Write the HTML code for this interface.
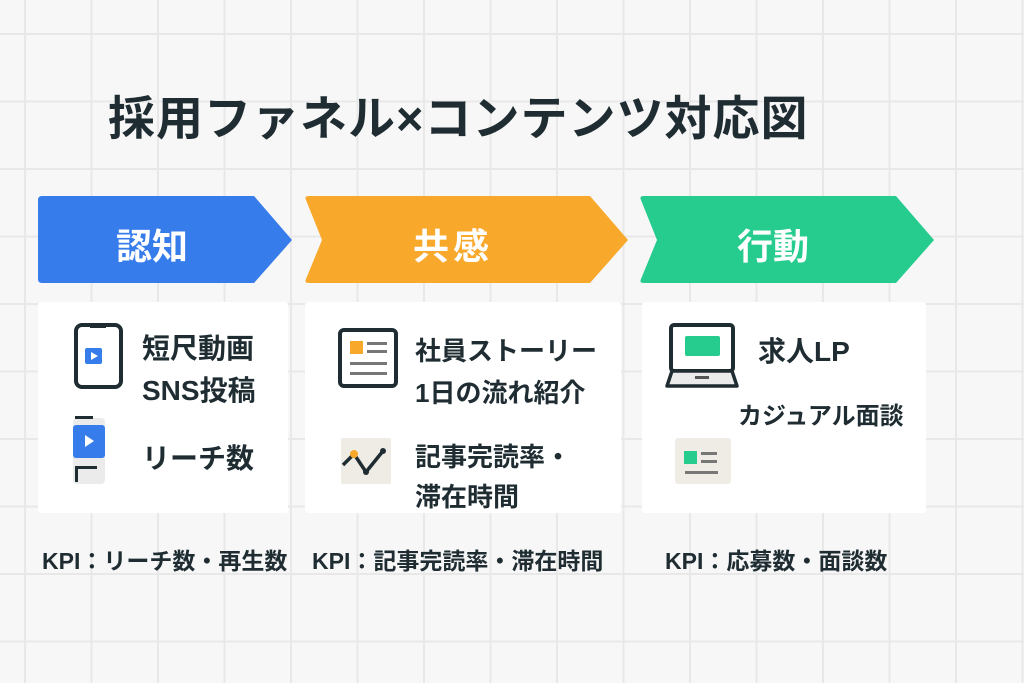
<!DOCTYPE html>
<html><head><meta charset="utf-8"><style>
body{margin:0;width:1024px;height:683px;overflow:hidden;font-family:"Liberation Sans","Noto Sans CJK JP",sans-serif;color:#1f2d33;
background-color:#f7f7f7;
background-image:linear-gradient(#e8e8e8 2px,transparent 2px),linear-gradient(90deg,#e8e8e8 2px,transparent 2px);
background-size:66.5px 67.5px;background-position:24px 33px;position:relative}
.a{position:absolute}
.t{font-weight:700}
.card{position:absolute;background:#fff;border-radius:3px}
</style></head><body>
<div class="a t" style="left:108px;top:80px;font-size:47px;letter-spacing:1px;white-space:nowrap">採用ファネル×コンテンツ対応図</div>
<svg class="a" style="left:0;top:0" width="1024" height="683">
<path d="M42 196 H254 L292 240 L254 283 H42 Q38 283 38 279 V200 Q38 196 42 196Z" fill="#377ceb"/>
<path d="M309 196 H590 L628 240 L590 283 H309 Q304 283 306 279 L322 240 L306 200 Q304 196 309 196Z" fill="#f8a82a"/>
<path d="M644 196 H896 L934 240 L896 283 H644 Q639 283 641 279 L657 240 L641 200 Q639 196 644 196Z" fill="#25cc8d"/>
</svg>
<div class="a t" style="left:116px;top:218px;font-size:36px;color:#fff">認知</div>
<div class="a t" style="left:413px;top:218px;font-size:36px;color:#fff;letter-spacing:4px">共感</div>
<div class="a t" style="left:737px;top:218px;font-size:36px;color:#fff">行動</div>

<div class="card" style="left:38px;top:302px;width:250px;height:211px"></div>
<div class="card" style="left:305px;top:302px;width:316px;height:211px"></div>
<div class="card" style="left:642px;top:302px;width:284px;height:211px"></div>

<svg class="a" style="left:0;top:0" width="1024" height="683">
<rect x="76" y="325" width="45" height="62" rx="6" fill="none" stroke="#1f2d33" stroke-width="4"/>
<rect x="90" y="324" width="16" height="4" fill="#1f2d33"/>
<rect x="85" y="348" width="17" height="16" rx="2" fill="#377ceb"/>
<path d="M91 352 L98 356 L91 360Z" fill="#fff"/>
<rect x="73" y="418" width="32" height="66" rx="4" fill="#ebebeb"/>
<rect x="73" y="425" width="32" height="33" rx="3" fill="#377ceb"/>
<path d="M85 435 L94 441 L85 447Z" fill="#fff"/>
<rect x="75" y="416" width="18" height="3" fill="#1f2d33"/>
<rect x="75" y="466" width="3" height="16" fill="#1f2d33"/><rect x="75" y="466" width="22" height="3" fill="#1f2d33"/>
<rect x="340" y="330" width="56" height="56" rx="4" fill="none" stroke="#1f2d33" stroke-width="4"/>
<rect x="350" y="341" width="13" height="13" fill="#f8a82a"/>
<rect x="367" y="342" width="20" height="3" fill="#777"/><rect x="367" y="350" width="20" height="3" fill="#777"/>
<rect x="350" y="362" width="37" height="3" fill="#777"/><rect x="350" y="372" width="37" height="3" fill="#777"/>
<rect x="341" y="438" width="50" height="46" rx="2" fill="#efece6"/>
<path d="M343 465 L354 454 L366 472 L383 451" fill="none" stroke="#1f2d33" stroke-width="3.5"/>
<circle cx="354" cy="454" r="4" fill="#f8a82a"/><circle cx="366" cy="472" r="3" fill="#1f2d33"/><circle cx="383" cy="451" r="3" fill="#1f2d33"/>
<rect x="671" y="325" width="62" height="46" rx="3" fill="none" stroke="#1f2d33" stroke-width="4"/>
<path d="M667 386 L672 371 H732 L737 386Z" fill="#ebebeb" stroke="#1f2d33" stroke-width="3.5" stroke-linejoin="round"/>
<rect x="695" y="376" width="14" height="3" fill="#555"/>
<rect x="685" y="336" width="35" height="20" rx="2" fill="#25cc8d"/>
<rect x="675" y="438" width="56" height="46" rx="3" fill="#efece6"/>
<rect x="684" y="451" width="13" height="13" fill="#25cc8d"/>
<rect x="701" y="452" width="16" height="3" fill="#777"/><rect x="701" y="460" width="16" height="3" fill="#777"/>
<rect x="685" y="471" width="33" height="3" fill="#777"/>
</svg>

<div class="a t" style="left:142px;top:328px;font-size:28px;line-height:42px">短尺動画<br>SNS投稿</div>
<div class="a t" style="left:142px;top:437px;font-size:28px">リーチ数</div>
<div class="a t" style="left:415px;top:330px;font-size:26px;line-height:42px;white-space:nowrap">社員ストーリー<br>1日の流れ紹介</div>
<div class="a t" style="left:415px;top:437px;font-size:26px;line-height:40px;white-space:nowrap">記事完読率・<br>滞在時間</div>
<div class="a t" style="left:758px;top:330px;font-size:28px">求人LP</div>
<div class="a t" style="left:738px;top:396px;font-size:24px">カジュアル面談</div>

<div class="a t" style="left:42px;top:542px;font-size:23px;white-space:nowrap">KPI：リーチ数・再生数</div>
<div class="a t" style="left:312px;top:542px;font-size:23px;white-space:nowrap">KPI：記事完読率・滞在時間</div>
<div class="a t" style="left:665px;top:542px;font-size:23px;white-space:nowrap">KPI：応募数・面談数</div>
</body></html>
